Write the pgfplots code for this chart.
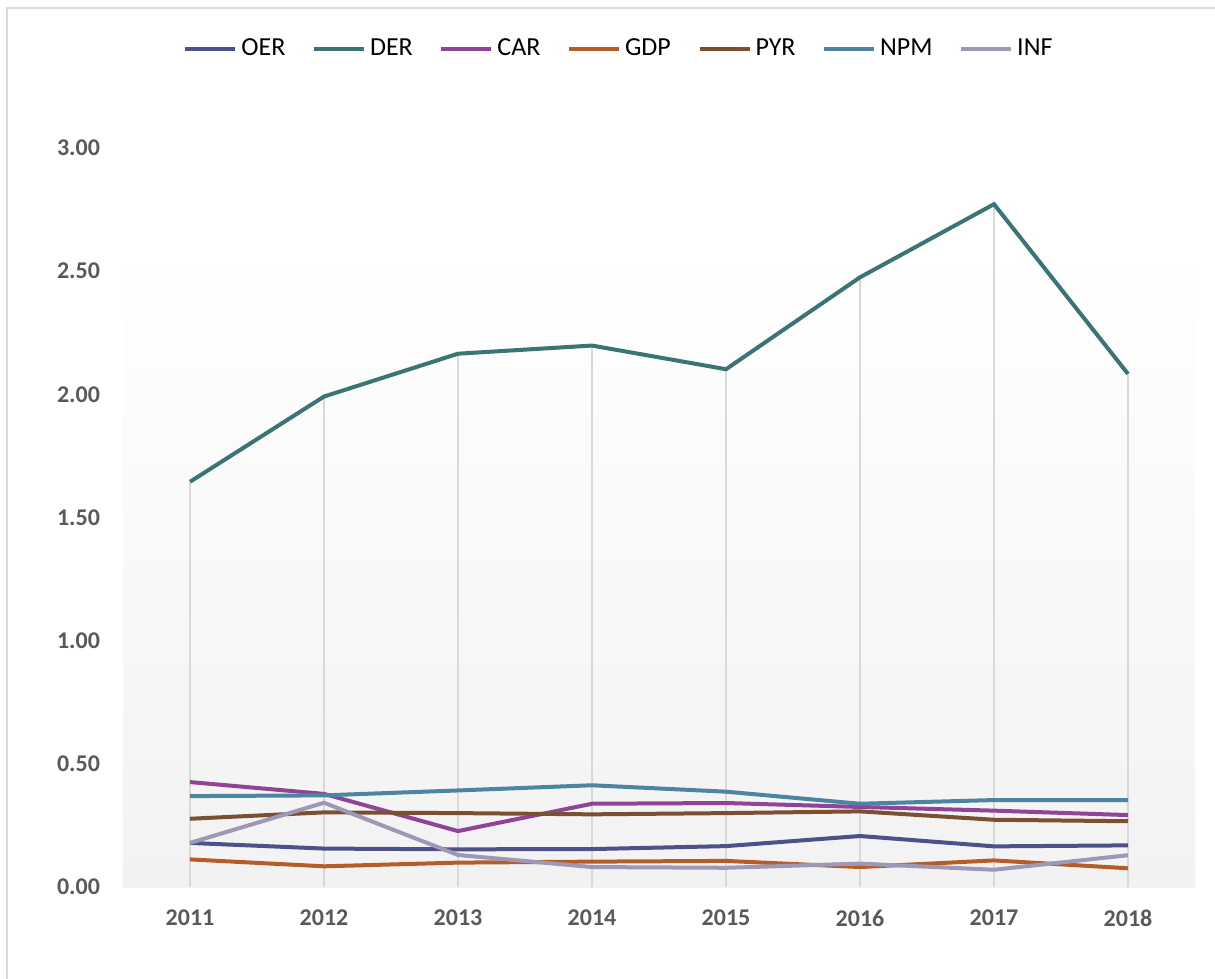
\documentclass[border=0pt]{standalone}
\usepackage{pgfplots}
\pgfplotsset{compat=1.18}
\usepackage{fontspec}
\setmainfont{Carlito}
\definecolor{cOER}{HTML}{4E5089}
\definecolor{cDER}{HTML}{3B7475}
\definecolor{cCAR}{HTML}{8F4497}
\definecolor{cGDP}{HTML}{B55D27}
\definecolor{cPYR}{HTML}{7B4F32}
\definecolor{cNPM}{HTML}{4D84A1}
\definecolor{cINF}{HTML}{9C98B5}
\definecolor{gridc}{HTML}{D9D9D9}
\definecolor{txt}{HTML}{595959}
\definecolor{bgbot}{HTML}{F2F2F2}
\begin{document}
\begin{tikzpicture}
\useasboundingbox (0,0) rectangle (607.5pt,-489.5pt);
\draw[gridc, line width=0.8pt] (607.5pt,-4pt) -- (3.5pt,-4pt) -- (3.5pt,-489.5pt);
\begin{axis}[
  at={(61.5pt,-443.5pt)}, anchor=south west,
  scale only axis, width=536pt, height=369.5pt,
  xmin=-0.5, xmax=7.5, ymin=0, ymax=3,
  xtick={0,...,7},
  xticklabels={2011,2012,2013,2014,2015,2016,2017,2018},
  ytick={0,0.5,1,1.5,2,2.5,3},
  y tick label style={/pgf/number format/fixed, /pgf/number format/fixed zerofill, /pgf/number format/precision=2},
  /pgf/number format/assume math mode=true,
  tick label style={font=\fontsize{12}{14}\selectfont\bfseries, text=txt},
  y tick label style={xshift=-8pt},
  x tick label style={yshift=-8pt},
  major tick length=0pt,
  axis lines*=left,
  axis line style={-},
  y axis line style={draw=none},
  x axis line style={draw=gridc, line width=1pt},
  clip=false,
  legend style={at={(0.4636,1.134)}, anchor=center, draw=none, fill=none,
    legend columns=7, font=\fontsize{13}{15}\selectfont,
    /tikz/every even column/.append style={column sep=11.3pt}},
  legend image code/.code={\draw[#1] (0pt,0pt) -- (25pt,0pt);},
  every axis plot/.append style={line width=2pt, no markers},
]
\fill[top color=white, bottom color=bgbot, draw=none] (axis cs:-0.5,0) rectangle (axis cs:7.5,2.607);
\addplot[ycomb, gridc, line width=0.7pt, forget plot] coordinates {(0,1.645) (1,1.991) (2,2.165) (3,2.198) (4,2.102) (5,2.475) (6,2.772) (7,2.083)};
\addplot[cOER] coordinates {(0,0.179) (1,0.156) (2,0.153) (3,0.154) (4,0.166) (5,0.207) (6,0.165) (7,0.169)};
\addlegendentry{OER}
\addplot[cDER] coordinates {(0,1.645) (1,1.991) (2,2.165) (3,2.198) (4,2.102) (5,2.475) (6,2.772) (7,2.083)};
\addlegendentry{DER}
\addplot[cCAR] coordinates {(0,0.426) (1,0.378) (2,0.227) (3,0.338) (4,0.341) (5,0.325) (6,0.310) (7,0.292)};
\addlegendentry{CAR}
\addplot[cGDP] coordinates {(0,0.112) (1,0.084) (2,0.099) (3,0.103) (4,0.106) (5,0.081) (6,0.108) (7,0.076)};
\addlegendentry{GDP}
\addplot[cPYR] coordinates {(0,0.277) (1,0.303) (2,0.300) (3,0.295) (4,0.300) (5,0.307) (6,0.273) (7,0.267)};
\addlegendentry{PYR}
\addplot[cNPM] coordinates {(0,0.369) (1,0.372) (2,0.392) (3,0.413) (4,0.387) (5,0.338) (6,0.353) (7,0.353)};
\addlegendentry{NPM}
\addplot[cINF] coordinates {(0,0.179) (1,0.342) (2,0.130) (3,0.081) (4,0.078) (5,0.095) (6,0.070) (7,0.129)};
\addlegendentry{INF}
\end{axis}
\end{tikzpicture}
\end{document}
